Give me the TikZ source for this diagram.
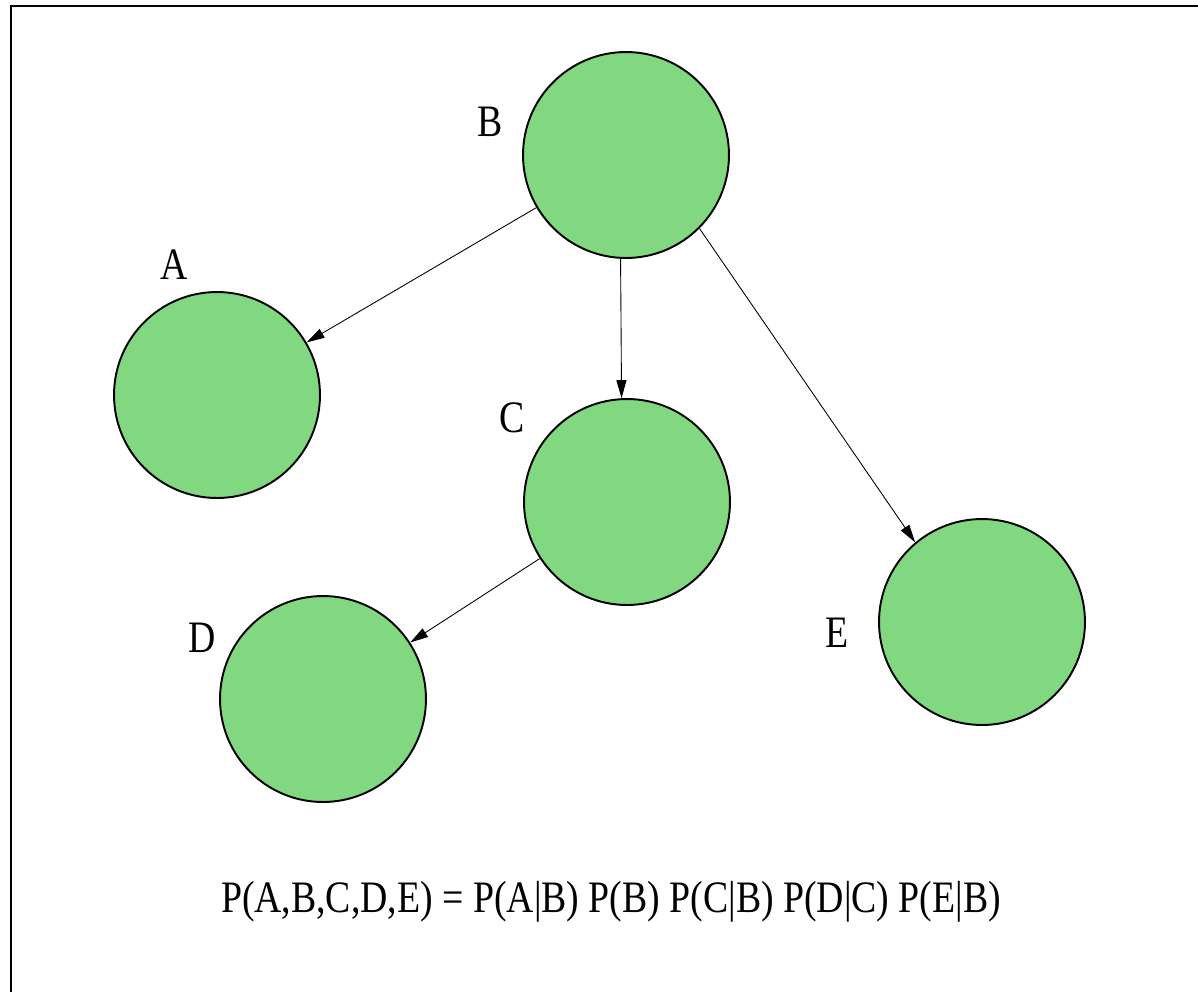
\documentclass[tikz,border=0pt]{standalone}
\usepackage{fontspec}
\setmainfont{Liberation Serif}
\newfontfamily\narrowserif[FakeStretch=0.84]{Liberation Serif}
\usepackage{tikz}
\usetikzlibrary{arrows.meta}
\definecolor{leafgreen}{RGB}{129,216,129}

\begin{document}
\begin{tikzpicture}[
  x=0.02cm, y=-0.02cm,
  every node/.style={font=\narrowserif\fontsize{25.6}{30}\selectfont},
  varnode/.style={circle, draw=black, line width=1.1pt, fill=leafgreen, minimum size=4.12cm, inner sep=0pt},
  lbl/.style={inner sep=0pt},
  edge/.style={-{Triangle[length=0.36cm,width=0.2cm]}, line width=0.5pt}
]
\useasboundingbox (0,0) rectangle (1198,992);
\draw[line width=0.8pt] (11,992) -- (11,6) -- (1198,6);

\node[varnode] (B) at (626,155) {};
\node[varnode] (A) at (217,395) {};
\node[varnode] (C) at (627,502) {};
\node[varnode] (D) at (323,699) {};
\node[varnode] (E) at (982,622) {};

\node[lbl] (lblB) at (490,122) {B};
\node[lbl] (lblA) at (174,265) {A};
\node[lbl] (lblC) at (512,418) {C};
\node[lbl] (lblD) at (202,638) {D};
\node[lbl] (lblE) at (837,633) {E};

\draw[edge] (B) -- (A);
\draw[edge] (B.-93) -- (C.93.3);
\draw[edge] (B.-45) -- (E.130);
\draw[edge] (C) -- (D);

\node[lbl, anchor=base] (joint) at (611,912) {P(A,B,C,D,E) = P(A|B) P(B) P(C|B) P(D|C) P(E|B)};
\end{tikzpicture}
\end{document}
